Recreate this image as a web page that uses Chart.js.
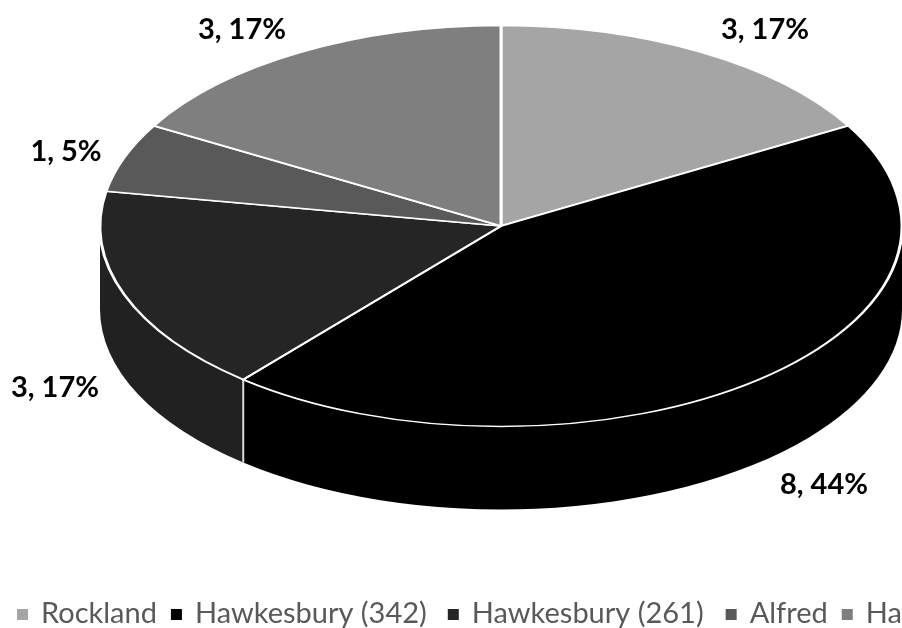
<!DOCTYPE html>
<html>
<head>
<meta charset="utf-8">
<style>
  html, body { margin: 0; padding: 0; background: #fff; overflow: hidden; }
  canvas { display: block; }
</style>
<script src="https://cdn.jsdelivr.net/npm/chart.js@4.4.7/dist/chart.umd.min.js"></script>
</head>
<body>
<canvas id="chart" width="902" height="628"></canvas>
<script>
const categories = ['Rockland', 'Hawkesbury (342)', 'Hawkesbury (261)', 'Alfred', 'Hampton'];
const counts = [3, 8, 3, 1, 3];
const percents = [17, 44, 17, 5, 17];
const sliceColors = ['#a5a5a5', '#000000', '#252525', '#595959', '#7f7f7f'];
const sideColors = ['#959595', '#000000', '#212121', '#505050', '#727272'];
const labelSpots = [[765, 30], [824, 485], [55, 388], [66, 152], [242, 30]];
const legendGaps = [14, 21, 22, 14, 0];

const squash = 0.5;
const depth = 83;

const tilt3d = {
  id: 'tilt3d',
  beforeDatasetsDraw(chart) {
    const ctx = chart.ctx;
    const arcs = chart.getDatasetMeta(0).data;
    const cx = arcs[0].x, cy = arcs[0].y;
    const rx = arcs[0].outerRadius, ry = rx * squash;

    // side wall, only the part of each slice facing the viewer
    arcs.forEach((arc, i) => {
      const from = Math.max(arc.startAngle, 0);
      const to = Math.min(arc.endAngle, Math.PI);
      if (to <= from) return;
      ctx.beginPath();
      ctx.ellipse(cx, cy, rx, ry, 0, from, to);
      ctx.ellipse(cx, cy + depth, rx, ry, 0, to, from, true);
      ctx.closePath();
      ctx.fillStyle = sideColors[i];
      ctx.fill();
    });

    ctx.strokeStyle = '#d9d9d9';
    ctx.lineWidth = 2;
    arcs.forEach(arc => {
      const a = arc.startAngle;
      if (a <= 0 || a >= Math.PI) return;
      const x = cx + rx * Math.cos(a), y = cy + ry * Math.sin(a);
      ctx.beginPath();
      ctx.moveTo(x, y);
      ctx.lineTo(x, y + depth);
      ctx.stroke();
    });

    ctx.save();
    ctx.translate(cx, cy);
    ctx.scale(1, squash);
    ctx.translate(-cx, -cy);
  },
  afterDatasetsDraw(chart) {
    chart.ctx.restore();
  },
  afterDraw(chart) {
    const ctx = chart.ctx;
    ctx.save();
    ctx.font = 'bold 29px Lato';
    ctx.fillStyle = '#000';
    ctx.textAlign = 'center';
    ctx.textBaseline = 'middle';
    counts.forEach((v, i) => {
      ctx.fillText(v + ', ' + percents[i] + '%', labelSpots[i][0], labelSpots[i][1]);
    });

    // legend runs off the right edge like the original
    ctx.font = '29px Lato';
    ctx.textAlign = 'left';
    let x = 17;
    categories.forEach((name, i) => {
      ctx.fillStyle = sliceColors[i];
      ctx.fillRect(x, 609, 11, 11);
      ctx.fillStyle = '#595959';
      ctx.fillText(name, x + 24, 614);
      x += 24 + ctx.measureText(name).width + legendGaps[i];
    });
    ctx.restore();
  }
};

new Chart(document.getElementById('chart'), {
  type: 'pie',
  data: {
    labels: categories,
    datasets: [{
      data: counts,
      backgroundColor: sliceColors,
      borderColor: '#ffffff',
      borderWidth: 3,
      clip: false
    }]
  },
  options: {
    responsive: false,
    animation: false,
    radius: 401,
    layout: { padding: { left: 100, right: 0, top: 0, bottom: 176 } },
    plugins: { legend: { display: false }, tooltip: { enabled: false } }
  },
  plugins: [tilt3d]
});
</script>
</body>
</html>
